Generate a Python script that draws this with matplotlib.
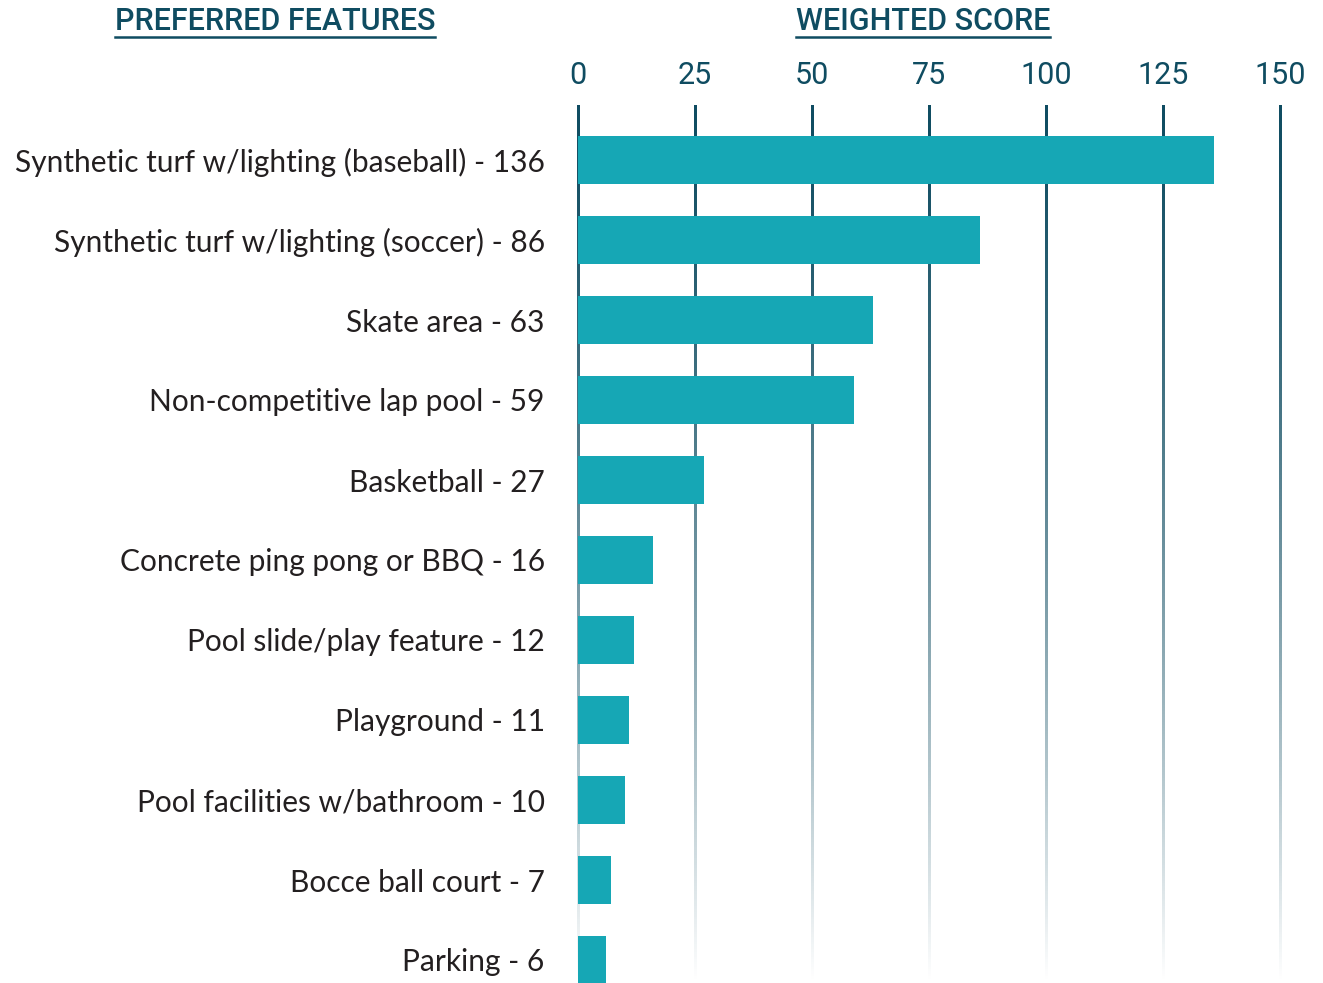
import matplotlib
matplotlib.use("Agg")
import matplotlib.pyplot as plt
import numpy as np
from matplotlib.colors import to_rgba

# ---------------------------------------------------------------------------
# Data
# ---------------------------------------------------------------------------
features = [
    "Synthetic turf w/lighting (baseball)",
    "Synthetic turf w/lighting (soccer)",
    "Skate area",
    "Non-competitive lap pool",
    "Basketball",
    "Concrete ping pong or BBQ",
    "Pool slide/play feature",
    "Playground",
    "Pool facilities w/bathroom",
    "Bocce ball court",
    "Parking",
]
scores = [136, 86, 63, 59, 27, 16, 12, 11, 10, 7, 6]
x_ticks = [0, 25, 50, 75, 100, 125, 150]

BAR_COL = "#16a7b5"
DARK = "#0f4c61"
TEXT = "#231f20"

W, H = 1323, 983
fig = plt.figure(figsize=(W / 100, H / 100), dpi=100)
# axes spans x 578..1280 px, y 105..983 px
ax = fig.add_axes([578 / W, 0, (1280 - 578) / W, (983 - 105) / H])

y = np.arange(len(features))
ax.barh(y, scores, height=0.6, color=BAR_COL, zorder=3)
xlim = (0, 150)
ylim = ((983 - 160) / 80, (105 - 160) / 80)

# fading grid lines (vertical gradient images)
n = 256
t = np.linspace(0, 1, n)
grad = np.tile(np.array(to_rgba(DARK)), (n, 1))
grad[:, 3] = np.clip(1 - t ** 1.4, 0, 1)
grad = grad[:, None, :]
half_w = 1.1 * 150 / (1280 - 578)   # ~2.2 px wide
for xv in x_ticks:
    ax.imshow(grad, extent=[xv - half_w, xv + half_w, ylim[0], ylim[1]],
              origin="upper", aspect="auto", interpolation="bilinear",
              zorder=1, clip_on=False)
ax.set_xlim(*xlim)
ax.set_ylim(*ylim)

ax.set_xticks(x_ticks)
ax.set_xticklabels([str(v) for v in x_ticks], fontfamily="Roboto", fontsize=22, color=DARK)
ax.xaxis.tick_top()
ax.tick_params(axis="x", length=0, pad=11)

ax.set_yticks(y)
ax.set_yticklabels([f"{f} - {s}" for f, s in zip(features, scores)],
                   fontfamily="Lato", fontsize=21.5, color=TEXT)
ax.tick_params(axis="y", length=0, pad=24)

for sp in ax.spines.values():
    sp.set_visible(False)

# underlined headers
headers = [("PREFERRED FEATURES", 275), ("WEIGHTED SCORE", 923)]
fig.canvas.draw()
renderer = fig.canvas.get_renderer()
for txt, xc in headers:
    tx = fig.text(xc / W, 1 - 21 / H, txt, ha="center", va="center",
                  fontfamily="Roboto", fontsize=22, fontweight="medium", color=DARK)
    bb = tx.get_window_extent(renderer)
    yline = (H - 37) / H
    fig.add_artist(plt.Line2D([bb.x0 / W, bb.x1 / W], [yline, yline],
                              color=DARK, lw=1.8, transform=fig.transFigure))

fig.savefig("out.png", dpi=100)
